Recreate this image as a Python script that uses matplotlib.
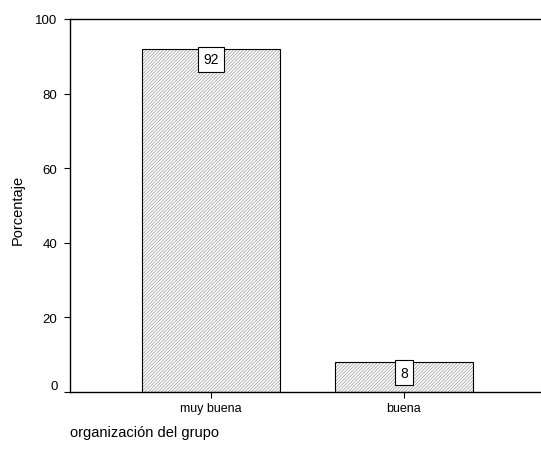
import matplotlib
matplotlib.use("Agg")
import matplotlib.pyplot as plt
import matplotlib.transforms as mtransforms

categories = ["muy buena", "buena"]
percentages = [92, 8]
y_ticks = [0, 20, 40, 60, 80, 100]

plt.rcParams["font.family"] = ["Liberation Sans", "DejaVu Sans"]
plt.rcParams["hatch.linewidth"] = 0.5

fig = plt.figure(figsize=(5.41, 4.56), dpi=100)
ax = fig.add_axes([70 / 541, 1 - 393 / 456, 471 / 541, 373 / 456])

x = list(range(len(categories)))
# hatch takes the edge colour, so draw the grey fill first, then a black outline
ax.bar(x, percentages, width=0.715, facecolor="white", edgecolor="#9a9a9a",
       linewidth=0, hatch="//////////")
ax.bar(x, percentages, width=0.715, fill=False, edgecolor="black", linewidth=0.8)

for xi, v in zip(x, percentages):
    ax.annotate(str(v), (xi, v), xytext=(0, -2.5), textcoords="offset points",
                ha="center", va="top", fontsize=10,
                bbox=dict(boxstyle="square,pad=0.38", facecolor="white",
                          edgecolor="black", linewidth=0.8))

ax.set_xlim(-0.73, 1.71)
ax.set_ylim(0, 100)
ax.set_xticks(x)
ax.set_xticklabels(categories, fontsize=9)
ax.set_yticks(y_ticks)
ax.set_yticklabels([str(t) for t in y_ticks], fontsize=9.5)
ax.tick_params(axis="both", direction="out", length=4, width=0.8, pad=3)
ax.tick_params(axis="y", pad=5)

ax.spines["right"].set_visible(False)
for s in ["left", "top", "bottom"]:
    ax.spines[s].set_linewidth(1.0)

# SPSS-style: 0 label sits a bit above the baseline
shift = mtransforms.ScaledTranslation(0, 7 / 100, fig.dpi_scale_trans)
lbl0 = ax.get_yticklabels()[0]
lbl0.set_transform(lbl0.get_transform() + shift)

fig.text(18 / 541, 1 - 210 / 456, "Porcentaje", fontsize=10.5,
         rotation=90, ha="center", va="center")
fig.text(70 / 541, 1 - 433 / 456, "organización del grupo", fontsize=10.5,
         ha="left", va="center")

fig.savefig("out.png", dpi=100)
